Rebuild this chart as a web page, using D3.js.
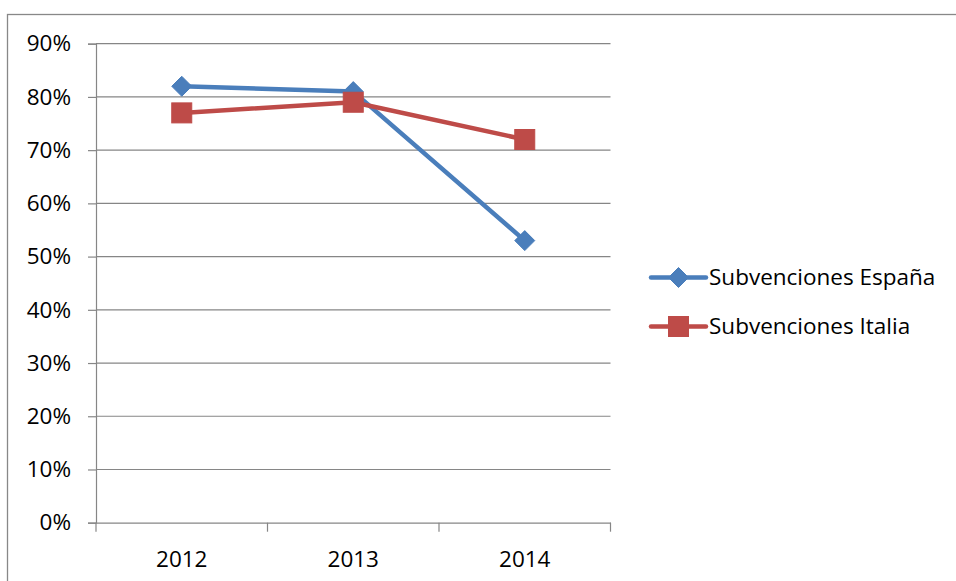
<!DOCTYPE html>
<html><head><meta charset="utf-8">
<script src="https://cdn.jsdelivr.net/npm/d3@7"></script>
<style>body{margin:0;background:#fff}svg{display:block}</style>
</head><body>
<svg id="c" width="956" height="581"></svg>
<script>
const categories = ["2012", "2013", "2014"];
const seriesNames = ["Subvenciones España", "Subvenciones Italia"];
const espana = [0.82, 0.81, 0.53];
const italia = [0.77, 0.79, 0.72];
const yTicks = [0, 0.1, 0.2, 0.3, 0.4, 0.5, 0.6, 0.7, 0.8, 0.9];
const colors = ["#4A7EBB", "#BE4B48"];

const svg = d3.select("#c");
const font = "'Open Sans', 'Noto Sans', sans-serif";
const fs = 22.5;
const grid = "#868686";

// outer chart border (cut by the picture edges)
svg.append("rect").attr("x", 7.5).attr("y", 14.5).attr("width", 1000).attr("height", 1000)
  .attr("fill", "none").attr("stroke", "#888").attr("stroke-width", 1.3);

const x = d3.scaleBand().domain(categories).range([96, 610.5]);
const y = d3.scaleLinear().domain([0, 0.9]).range([522.7, 43.7]);

// gridlines
svg.append("g").selectAll("line").data(yTicks.filter(d => d > 0)).join("line")
  .attr("x1", 96).attr("x2", 610.5).attr("y1", d => y(d)).attr("y2", d => y(d))
  .attr("stroke", grid).attr("stroke-width", 1.2);

// y axis
const yAxis = svg.append("g").attr("transform", "translate(96,0)")
  .call(d3.axisLeft(y).tickValues(yTicks).tickFormat(d3.format(".0%")).tickSize(8).tickPadding(17));
yAxis.select(".domain").attr("stroke", grid).attr("stroke-width", 1.2);
yAxis.selectAll(".tick line").attr("stroke", grid).attr("stroke-width", 1.2);
yAxis.selectAll("text").attr("font-family", font).attr("font-size", fs).attr("fill", "#000");

// x axis
const xAxis = svg.append("g").attr("transform", "translate(0,522.7)")
  .call(d3.axisBottom(x).tickSize(0).tickPadding(28));
xAxis.select(".domain").attr("stroke", grid).attr("stroke-width", 1.2);
xAxis.selectAll("text").attr("font-family", font).attr("font-size", fs).attr("fill", "#000");
const bounds = categories.map(c => x(c)).concat([x.range()[1]]);
xAxis.append("g").selectAll("line").data(bounds).join("line")
  .attr("x1", d => d).attr("x2", d => d).attr("y1", 0).attr("y2", 9)
  .attr("stroke", grid).attr("stroke-width", 1.2);

const cx = c => x(c) + x.bandwidth() / 2;
const line = d3.line().x((d, i) => cx(categories[i])).y(d => y(d));

const diamond = (g, px, py, col) => g.append("path")
  .attr("d", `M${px},${py - 10}L${px + 10},${py}L${px},${py + 10}L${px - 10},${py}Z`)
  .attr("fill", col).attr("stroke", col).attr("stroke-width", 1);
const square = (g, px, py, col) => g.append("rect")
  .attr("x", px - 10).attr("y", py - 10).attr("width", 20).attr("height", 20)
  .attr("fill", col).attr("stroke", col).attr("stroke-width", 1);
const markers = [diamond, square];

[espana, italia].forEach((vals, s) => {
  const g = svg.append("g");
  g.append("path").datum(vals).attr("d", line).attr("fill", "none")
    .attr("stroke", colors[s]).attr("stroke-width", 4.5).attr("stroke-linejoin", "round");
  vals.forEach((v, i) => markers[s](g, cx(categories[i]), y(v), colors[s]));
});

// legend
const legY = [277.5, 326.5];
seriesNames.forEach((name, s) => {
  const g = svg.append("g");
  g.append("line").attr("x1", 651).attr("x2", 706).attr("y1", legY[s]).attr("y2", legY[s])
    .attr("stroke", colors[s]).attr("stroke-width", 4.5).attr("stroke-linecap", "round");
  markers[s](g, 678.5, legY[s], colors[s]);
  g.append("text").attr("x", 709).attr("y", legY[s]).attr("dy", "0.35em")
    .attr("font-family", font).attr("font-size", fs).attr("fill", "#000").text(name);
});
</script>
</body></html>
